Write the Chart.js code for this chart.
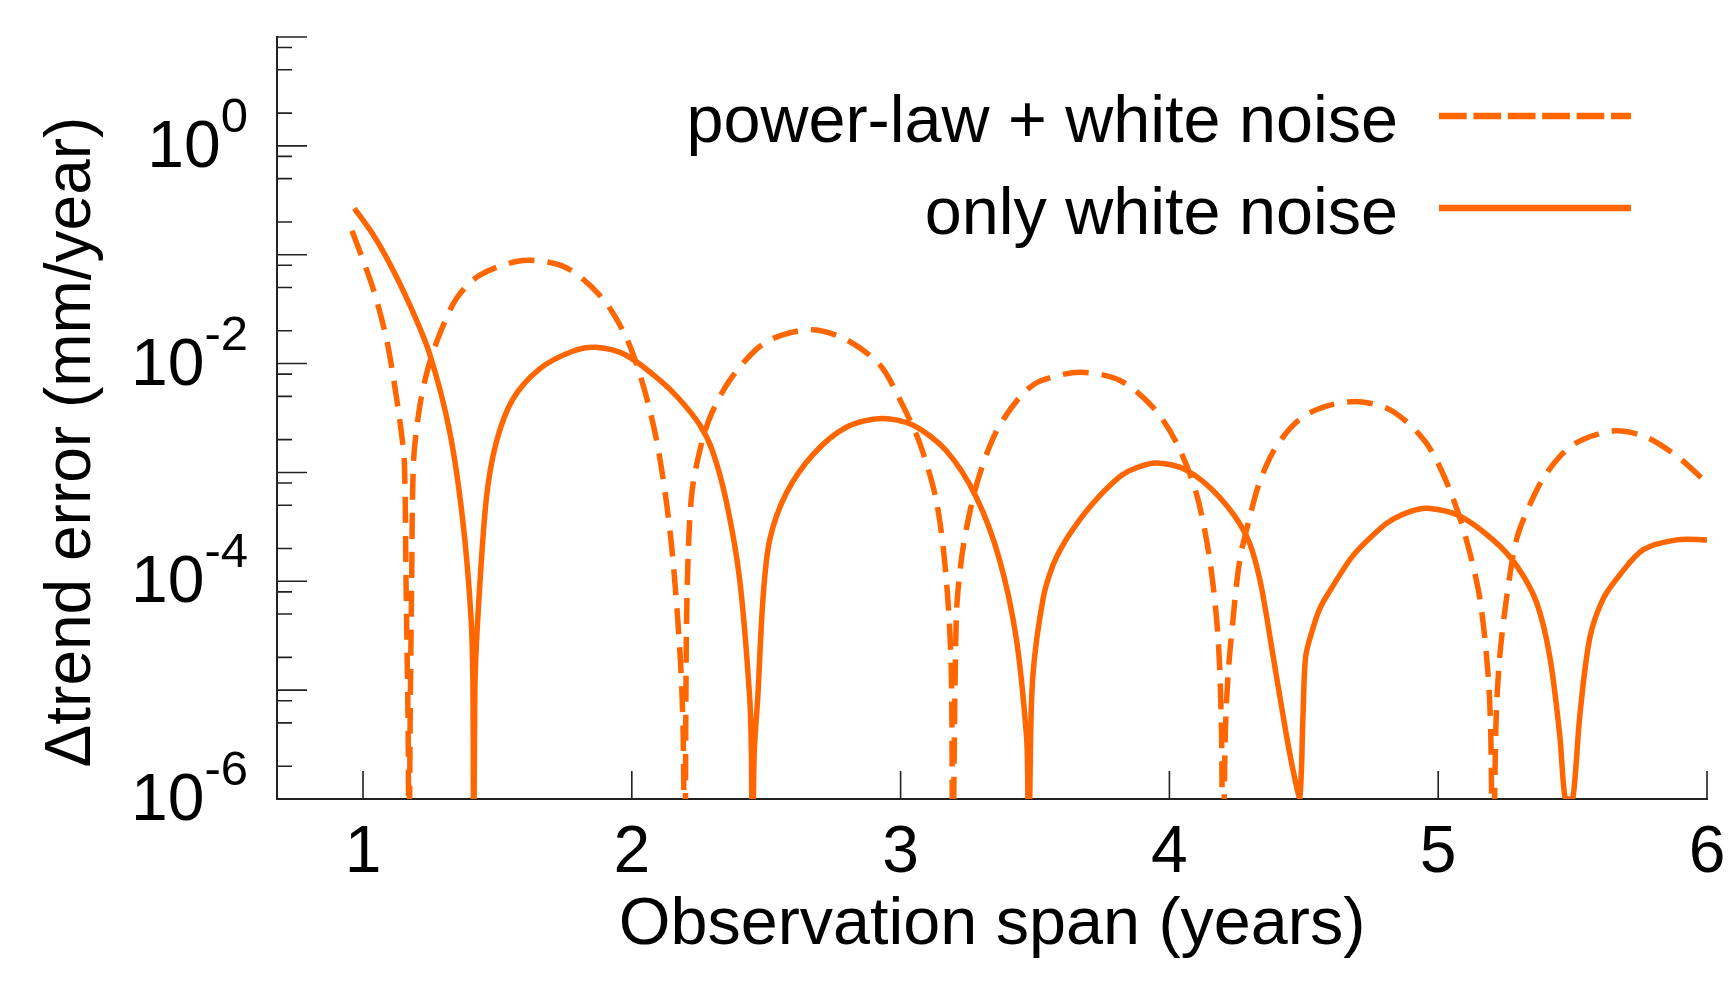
<!DOCTYPE html>
<html>
<head>
<meta charset="utf-8">
<script src="https://cdn.jsdelivr.net/npm/chart.js@4.4.1/dist/chart.umd.min.js"></script>
<style>
html,body{margin:0;padding:0;background:#ffffff;}
#wrap{width:1733px;height:997px;position:relative;}
</style>
</head>
<body>
<div id="wrap"><canvas id="c" width="1733" height="997"></canvas></div>
<script>
const FONT = '"Liberation Sans", Arial, Helvetica, sans-serif';
const ORANGE = '#ff6600';

const seriesNames = ['power-law + white noise', 'only white noise'];
const xAxisTitle = 'Observation span (years)';
const yAxisTitle = 'Δtrend error (mm/year)';

const xTickValues = [1, 2, 3, 4, 5, 6];
const yDecades = [1e-6, 1e-5, 1e-4, 1e-3, 1e-2, 1e-1, 1, 10];
const yMinorFactors = [2, 5, 8];
const yLabelValues = [1, 1e-2, 1e-4, 1e-6];
const yLabelBases = ['10', '10', '10', '10'];
const yLabelExponents = ['0', '-2', '-4', '-6'];

// power-law + white noise (dashed)
const dashedX = [0.959, 1.036, 1.086, 1.117, 1.142, 1.154, 1.160, 1.168, 1.171, 1.175, 1.181, 1.188, 1.21, 1.241, 1.285, 1.347, 1.433, 1.594, 1.756, 1.892, 1.979, 2.041, 2.091, 2.128, 2.153, 2.180, 2.191, 2.197, 2.203, 2.212, 2.227, 2.264, 2.30, 2.364, 2.463, 2.55, 2.674, 2.798, 2.922, 2.997, 3.071, 3.133, 3.17, 3.189, 3.193, 3.207, 3.226, 3.257, 3.295, 3.357, 3.446, 3.52, 3.668, 3.816, 3.94, 4.027, 4.10, 4.15, 4.181, 4.194, 4.198, 4.208, 4.218, 4.237, 4.262, 4.299, 4.336, 4.398, 4.485, 4.584, 4.708, 4.832, 4.956, 5.043, 5.105, 5.155, 5.186, 5.196, 5.203, 5.215, 5.229, 5.254, 5.291, 5.34, 5.402, 5.502, 5.65, 5.774, 5.898, 5.979];
const dashedY = [0.166, 0.0501, 0.0174, 6.46e-3, 2.40e-3, 1.23e-3, 1.0e-4, 3.98e-6, 1e-7, 3.98e-6, 1.0e-4, 1.26e-3, 3.89e-3, 8.91e-3, 0.0186, 0.0394, 0.0646, 0.0883, 0.0760, 0.0394, 0.0174, 6.46e-3, 2.04e-3, 5.50e-4, 1.58e-4, 2.04e-5, 4.0e-6, 1e-7, 3.16e-5, 2.51e-4, 7.59e-4, 2.04e-3, 3.63e-3, 7.0e-3, 0.0135, 0.0180, 0.0204, 0.0166, 9.77e-3, 4.68e-3, 1.86e-3, 5.50e-4, 1.05e-4, 1.35e-5, 1e-7, 4.57e-5, 1.58e-4, 4.27e-4, 9.77e-4, 2.40e-3, 5.01e-3, 6.92e-3, 8.32e-3, 7.0e-3, 3.94e-3, 1.86e-3, 6.46e-4, 1.58e-4, 3.02e-5, 3.89e-6, 1e-7, 4.0e-6, 1.35e-5, 4.57e-5, 1.58e-4, 3.89e-4, 8.22e-4, 1.74e-3, 3.09e-3, 4.07e-3, 4.47e-3, 3.63e-3, 1.86e-3, 6.92e-4, 2.40e-4, 6.92e-5, 1.35e-5, 3.5e-6, 1e-7, 5.0e-6, 2.04e-5, 6.92e-5, 2.40e-4, 5.01e-4, 9.77e-4, 1.80e-3, 2.40e-3, 2.11e-3, 1.35e-3, 8.91e-4];

// only white noise (solid)
const solidX = [0.968, 1.036, 1.099, 1.17, 1.247, 1.322, 1.371, 1.402, 1.409, 1.412, 1.416, 1.427, 1.458, 1.495, 1.557, 1.656, 1.78, 1.867, 1.979, 2.103, 2.178, 2.252, 2.30, 2.351, 2.401, 2.438, 2.445, 2.448, 2.455, 2.469, 2.488, 2.513, 2.575, 2.674, 2.798, 2.928, 3.046, 3.17, 3.282, 3.368, 3.43, 3.468, 3.473, 3.476, 3.482, 3.492, 3.53, 3.567, 3.61, 3.656, 3.70, 3.758, 3.82, 3.88, 3.952, 4.063, 4.187, 4.287, 4.336, 4.386, 4.435, 4.465, 4.485, 4.497, 4.507, 4.533, 4.558, 4.589, 4.683, 4.782, 4.832, 4.90, 4.962, 5.08, 5.204, 5.291, 5.366, 5.415, 5.452, 5.471, 5.486, 5.502, 5.527, 5.564, 5.614, 5.676, 5.763, 5.887, 6.0];
const solidY = [0.266, 0.155, 0.0832, 0.0363, 0.01245, 2.40e-3, 3.63e-4, 4.57e-5, 1.0e-5, 1e-7, 1.0e-5, 4.57e-5, 5.50e-4, 1.86e-3, 4.68e-3, 8.91e-3, 0.01297, 0.01409, 0.01194, 7.08e-3, 4.68e-3, 2.75e-3, 1.58e-3, 5.50e-4, 1.05e-4, 8.91e-6, 2.5e-6, 1e-7, 2.5e-6, 8.91e-6, 6.92e-5, 2.40e-4, 6.46e-4, 1.46e-3, 2.60e-3, 3.13e-3, 2.72e-3, 1.58e-3, 5.89e-4, 1.58e-4, 3.02e-5, 3.89e-6, 1.5e-6, 1e-7, 2.0e-6, 1.35e-5, 6.92e-5, 1.41e-4, 2.29e-4, 3.39e-4, 4.68e-4, 6.76e-4, 9.33e-4, 1.11e-3, 1.22e-3, 1.05e-3, 5.89e-4, 2.60e-4, 1.05e-4, 2.04e-5, 3.89e-6, 1.6e-6, 1.02e-6, 5.89e-6, 2.04e-5, 3.63e-5, 5.5e-5, 7.59e-5, 1.72e-4, 3.02e-4, 3.72e-4, 4.42e-4, 4.68e-4, 3.98e-4, 2.40e-4, 1.40e-4, 6.38e-5, 2.04e-5, 3.89e-6, 1.05e-6, 1.0e-6, 1.05e-6, 5.89e-6, 3.02e-5, 6.92e-5, 1.15e-4, 1.95e-4, 2.40e-4, 2.40e-4];

const decorPlugin = {
  id: 'decor',
  afterDraw(chart) {
    const ctx = chart.ctx;
    const ca = chart.chartArea;
    const xs = chart.scales.x, ys = chart.scales.y;
    ctx.save();
    // inward tick marks
    ctx.strokeStyle = '#222';
    ctx.lineWidth = 1.6;
    ctx.beginPath();
    yDecades.forEach(d => {
      const py = ys.getPixelForValue(d);
      ctx.moveTo(ca.left, py); ctx.lineTo(ca.left + 30, py);
      if (d < 10) {
        yMinorFactors.forEach(f => {
          const pm = ys.getPixelForValue(d * f);
          ctx.moveTo(ca.left, pm); ctx.lineTo(ca.left + 15, pm);
        });
      }
    });
    xTickValues.forEach(v => {
      const px = xs.getPixelForValue(v);
      ctx.moveTo(px, ca.bottom); ctx.lineTo(px, ca.bottom - 28);
    });
    ctx.stroke();

    // y tick labels with exponents
    ctx.fillStyle = '#000';
    ctx.textBaseline = 'alphabetic';
    ctx.textAlign = 'right';
    yLabelValues.forEach((v, i) => {
      const py = ys.getPixelForValue(v);
      ctx.font = '49px ' + FONT;
      ctx.fillText(yLabelExponents[i], 248, py - 14);
      const w = ctx.measureText(yLabelExponents[i]).width;
      ctx.font = '66px ' + FONT;
      ctx.fillText(yLabelBases[i], 248 - w, py + 21);
    });

    // y axis title
    ctx.save();
    ctx.translate(90, 442);
    ctx.rotate(-Math.PI / 2);
    ctx.textAlign = 'center';
    ctx.font = '64px ' + FONT;
    ctx.fillText(yAxisTitle, 0, 0);
    ctx.restore();

    // legend
    ctx.font = '66.5px ' + FONT;
    ctx.textAlign = 'right';
    ctx.fillText(seriesNames[0], 1398, 142);
    ctx.fillText(seriesNames[1], 1398, 234);
    ctx.strokeStyle = ORANGE;
    ctx.lineWidth = 6.5;
    ctx.lineCap = 'butt';
    ctx.setLineDash([27.7, 6.7]);
    ctx.beginPath(); ctx.moveTo(1439, 116); ctx.lineTo(1631, 116); ctx.stroke();
    ctx.setLineDash([]);
    ctx.beginPath(); ctx.moveTo(1439, 208); ctx.lineTo(1631, 208); ctx.stroke();
    ctx.restore();
  }
};

new Chart(document.getElementById('c').getContext('2d'), {
  type: 'line',
  data: {
    datasets: [
      {
        label: seriesNames[0],
        data: dashedX.map((x, i) => ({x: x, y: dashedY[i]})),
        borderColor: ORANGE,
        borderWidth: 5.5,
        borderDash: [26, 13],
        pointRadius: 0,
        tension: 0.3,
        fill: false
      },
      {
        label: seriesNames[1],
        data: solidX.map((x, i) => ({x: x, y: solidY[i]})),
        borderColor: ORANGE,
        borderWidth: 5.5,
        pointRadius: 0,
        tension: 0.3,
        fill: false
      }
    ]
  },
  options: {
    responsive: false,
    animation: false,
    devicePixelRatio: 1,
    layout: {padding: {left: 0, right: 26, top: 37, bottom: 0}},
    plugins: {legend: {display: false}, tooltip: {enabled: false}},
    scales: {
      x: {
        type: 'linear',
        min: 0.68,
        max: 6,
        afterBuildTicks: s => { s.ticks = xTickValues.map(v => ({value: v})); },
        afterFit: s => { s.height = 198; s.paddingLeft = 0; s.paddingRight = 0; },
        grid: {display: false},
        border: {display: true, color: '#222', width: 2},
        ticks: {
          font: {family: FONT, size: 66},
          color: '#000',
          padding: 7,
          maxRotation: 0,
          autoSkip: false,
          callback: v => String(v)
        },
        title: {
          display: true,
          text: xAxisTitle,
          color: '#000',
          font: {family: FONT, size: 66.5},
          padding: {top: 0, bottom: 31}
        }
      },
      y: {
        type: 'logarithmic',
        min: 1e-6,
        max: 10,
        afterBuildTicks: s => { s.ticks = yDecades.map(v => ({value: v})); },
        afterFit: s => { s.width = 277; s.paddingTop = 0; s.paddingBottom = 0; },
        grid: {display: false},
        border: {display: true, color: '#222', width: 2},
        ticks: {display: false}
      }
    }
  },
  plugins: [decorPlugin]
});
</script>
</body>
</html>
